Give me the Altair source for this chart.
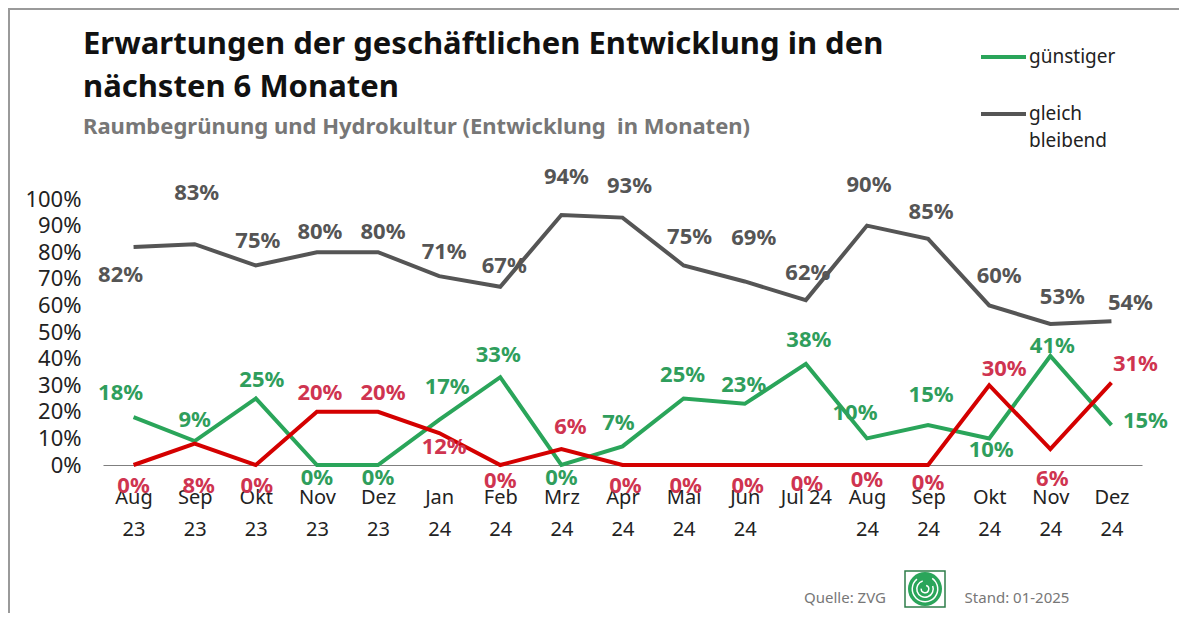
import altair as alt
import pandas as pd

months = ["Aug 23", "Sep 23", "Okt 23", "Nov 23", "Dez 23", "Jan 24", "Feb 24", "Mrz 24",
          "Apr 24", "Mai 24", "Jun 24", "Jul 24", "Aug 24", "Sep 24", "Okt 24", "Nov 24", "Dez 24"]
gleich = [82, 83, 75, 80, 80, 71, 67, 94, 93, 75, 69, 62, 90, 85, 60, 53, 54]
guenstiger = [18, 9, 25, 0, 0, 17, 33, 0, 7, 25, 23, 38, 10, 15, 10, 41, 15]
unguenstiger = [0, 8, 0, 20, 20, 12, 0, 6, 0, 0, 0, 0, 0, 0, 30, 6, 31]
y_ticks = [0, 10, 20, 30, 40, 50, 60, 70, 80, 90, 100]

series_names = ["günstiger", "gleich bleibend", "ungünstiger"]
line_colors = ["#2aa55a", "#555555", "#d40000"]
label_colors = ["#2f9e5c", "#555555", "#cf3450"]

title_lines = ["Erwartungen der geschäftlichen Entwicklung in den", "nächsten 6 Monaten"]
subtitle = "Raumbegrünung und Hydrokultur (Entwicklung\u00a0 in Monaten)"
legend_labels = ["günstiger", "gleich", "bleibend"]
source_text = "Quelle: ZVG"
stand_text = "Stand: 01-2025"

# label placement offsets in pixels (dx, dy) relative to each point
off_gleich = [(-13, 28), (2, -51), (2, -25), (3, -20), (5, -20), (5, -24), (4, -21), (5, -38),
              (7, -32), (6, -29), (9, -43), (2, -27), (2, -41), (3, -27), (10, -29), (12, -27), (19, -18)]
off_guen = [(-13, -24), (0, -21), (6, -19), (0, 13), (0, 13), (8, -33), (-2, -22), (0, 13),
            (-4, -23), (-1, -24), (-1, -19), (3, -24), (-12, -25), (3, -30), (2, 12), (2, -10), (34, -4)]
off_ung = [(0, 21), (4, 42), (1, 21), (3, -19), (5, -19), (5, 14), (0, 16), (9, -22),
           (3, 21), (2, 21), (3, 21), (1, 19), (0, 15), (0, 18), (15, -16), (2, 30), (24, -19)]

W, H = 1039, 266
PX_X = W / len(months)
PX_Y = H / 100.0

rows = []
for name, vals, offs in [("günstiger", guenstiger, off_guen),
                         ("gleich bleibend", gleich, off_gleich),
                         ("ungünstiger", unguenstiger, off_ung)]:
    for i, (v, (dx, dy)) in enumerate(zip(vals, offs)):
        rows.append({"idx": i, "month": months[i], "series": name, "value": v,
                     "lx": i + dx / PX_X, "ly": v - dy / PX_Y, "label": f"{v}%"})
df = pd.DataFrame(rows)
one = pd.DataFrame({"k": [0]})

FONT = "Noto Sans"
month_arr = "[" + ",".join(f"'{m}'" for m in months) + "]"
x_label_expr = (f"{month_arr}[datum.value] == 'Jul 24' ? {month_arr}[datum.value] : "
                f"split({month_arr}[datum.value], ' ')")

x_scale = alt.Scale(domain=[-0.5, len(months) - 0.5], nice=False, zero=False)
y_scale = alt.Scale(domain=[0, 100], nice=False)
color_scale = alt.Scale(domain=series_names, range=line_colors)

x_axis = alt.Axis(values=list(range(len(months))), labelExpr=x_label_expr, title=None,
                  ticks=False, grid=False, domain=True, domainColor="#7f7f7f",
                  domainWidth=1.2, labelFont=FONT, labelFontSize=20, labelColor="#222222",
                  labelPadding=22, labelLineHeight=32, labelOverlap=False,
                  labelBaseline="top", labelFlush=False)
y_axis = alt.Axis(values=y_ticks, labelExpr="datum.value + '%'", title=None,
                  ticks=False, grid=False, domain=False, labelFont=FONT,
                  labelFontSize=22, labelColor="#222222", labelPadding=22,
                  labelOverlap=False, labelSeparation=0, labelBound=False)

lines = alt.Chart(df).mark_line(strokeWidth=4, strokeJoin="miter").encode(
    x=alt.X("idx:Q", scale=x_scale, axis=x_axis),
    y=alt.Y("value:Q", scale=y_scale, axis=y_axis),
    color=alt.Color("series:N", scale=color_scale, legend=None),
    detail="series:N",
    order="idx:Q",
)

texts = []
for name, col in zip(series_names, label_colors):
    texts.append(
        alt.Chart(df).transform_filter(alt.datum.series == name)
        .mark_text(font=FONT, fontSize=22, fontWeight="bold", color=col, baseline="middle",
                   align="center")
        .encode(x=alt.X("lx:Q", scale=x_scale, axis=x_axis),
                y=alt.Y("ly:Q", scale=y_scale, axis=y_axis),
                text="label:N")
    )


def deco_text(txt, x, y, **kw):
    return alt.Chart(one).mark_text(font=FONT, baseline="middle", **kw).encode(
        x=alt.value(x), y=alt.value(y), text=alt.value(txt))


# titles
t1 = deco_text(title_lines[0], -20, -154, fontSize=31, fontWeight="bold", color="#111111", align="left")
t2 = deco_text(title_lines[1], -20, -111, fontSize=31, fontWeight="bold", color="#111111", align="left")
st = deco_text(subtitle, -20, -72, fontSize=22, fontWeight="bold", color="#777777", align="left")

# legend
leg_g = alt.Chart(one).mark_rule(color=line_colors[0], strokeWidth=4).encode(
    x=alt.value(878), x2=alt.value(923), y=alt.value(-142))
leg_k = alt.Chart(one).mark_rule(color=line_colors[1], strokeWidth=4).encode(
    x=alt.value(878), x2=alt.value(923), y=alt.value(-85))
lt1 = deco_text(legend_labels[0], 926, -142, fontSize=19, color="#222222", align="left")
lt2 = deco_text(legend_labels[1], 926, -85, fontSize=19, color="#222222", align="left")
lt3 = deco_text(legend_labels[2], 926, -58, fontSize=19, color="#222222", align="left")

# frame and footer
frame_top = alt.Chart(one).mark_rule(color="#9a9a9a", strokeWidth=2).encode(
    x=alt.value(-95), x2=alt.value(W + 37), y=alt.value(-190))
frame_left = alt.Chart(one).mark_rule(color="#9a9a9a", strokeWidth=2).encode(
    x=alt.value(-94), y=alt.value(-191), y2=alt.value(H + 148))
foot1 = deco_text(source_text, 742, 399, fontSize=15, color="#777777", align="center")
foot2 = deco_text(stand_text, 914, 399, fontSize=15, color="#777777", align="center")
logo_box = alt.Chart(one).mark_rect(fill="white", stroke="#2e7d4a", strokeWidth=1.5).encode(
    x=alt.value(802), x2=alt.value(842), y=alt.value(372), y2=alt.value(408))
logo_circle = alt.Chart(one).mark_arc(color="#2aa55a", innerRadius=0, outerRadius=17,
                                      theta=0, theta2=6.2832).encode(
    x=alt.value(822), y=alt.value(390))
logo_r1 = alt.Chart(one).mark_arc(color="white", innerRadius=12, outerRadius=13.5,
                                  theta=0.6, theta2=5.6).encode(x=alt.value(822), y=alt.value(390))
logo_r2 = alt.Chart(one).mark_arc(color="white", innerRadius=7.5, outerRadius=9,
                                  theta=1.2, theta2=6.0).encode(x=alt.value(822), y=alt.value(390))
logo_r3 = alt.Chart(one).mark_arc(color="white", innerRadius=3, outerRadius=4.5,
                                  theta=0.3, theta2=4.8).encode(x=alt.value(822), y=alt.value(390))

chart = alt.layer(lines, *texts, t1, t2, st, leg_g, leg_k, lt1, lt2, lt3,
                  frame_top, frame_left, foot1, foot2, logo_box, logo_circle,
                  logo_r1, logo_r2, logo_r3).properties(
    width=W, height=H,
    autosize=alt.AutoSizeParams(type="none"),
    padding={"left": 95, "top": 191, "right": 37, "bottom": 148},
).configure(background="white").configure_view(strokeWidth=0).configure_axis(
    labelOverlap=False)

chart.save("out.html", embed_options={"renderer": "svg", "actions": False})
